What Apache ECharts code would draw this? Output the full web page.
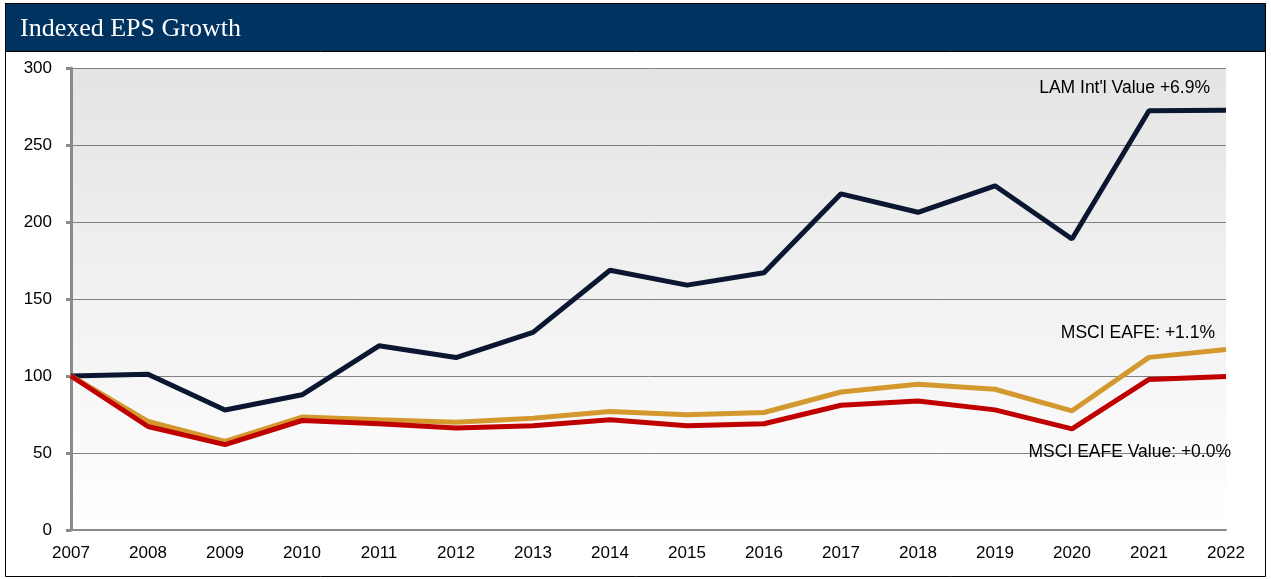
<!DOCTYPE html>
<html>
<head>
<meta charset="utf-8">
<script src="https://cdn.jsdelivr.net/npm/echarts@6/dist/echarts.min.js"></script>
<style>
html,body{margin:0;padding:0;background:#fff;}
#c{width:1271px;height:579px;}
</style>
</head>
<body>
<div id="c"></div>
<script>
const years = ['2007','2008','2009','2010','2011','2012','2013','2014','2015','2016','2017','2018','2019','2020','2021','2022'];
const lamIntlValue = [100,101.1,77.9,87.8,119.6,112,128.3,168.7,159,167,218.3,206.3,223.5,189,272.2,272.6];
const msciEafe = [100,70.5,57.5,73.3,71.6,70,72.6,76.9,74.8,76.3,89.6,94.6,91.4,77.4,112.1,117.2];
const msciEafeValue = [100,67.2,55.4,71.1,69,66.2,67.7,71.6,67.7,69,81,83.8,78,65.7,97.8,99.6];
const seriesNames = ["LAM Int'l Value +6.9%", 'MSCI EAFE: +1.1%', 'MSCI EAFE Value: +0.0%'];
const title = 'Indexed EPS Growth';

const chart = echarts.init(document.getElementById('c'), null, {renderer:'canvas'});
const lbl = {fontFamily:'Liberation Sans, Arial, sans-serif', fontSize:17, color:'#000'};
const annFont = '17.5px "Liberation Sans", Arial, sans-serif';
chart.setOption({
  animation:false,
  backgroundColor:'#fff',
  grid:{left:71, right:45, top:68, bottom:49, show:true, borderWidth:0,
    backgroundColor:{type:'linear',x:0,y:0,x2:0,y2:1,colorStops:[{offset:0,color:'#e4e4e4'},{offset:1,color:'#ffffff'}]}},
  xAxis:{type:'category', data:years, boundaryGap:false,
    axisLine:{lineStyle:{color:'#8a8a8a', width:2}},
    axisTick:{show:false},
    axisLabel:Object.assign({interval:0, margin:15}, lbl)},
  yAxis:{type:'value', min:0, max:300, interval:50,
    axisLine:{show:true, lineStyle:{color:'#8a8a8a', width:3}},
    axisTick:{show:true, length:5, lineStyle:{color:'#8a8a8a', width:3}},
    splitLine:{lineStyle:{color:'#808080', width:1}},
    axisLabel:Object.assign({margin:19}, lbl)},
  series:[
    {name:seriesNames[0], type:'line', data:lamIntlValue, symbol:'none', lineStyle:{color:'#0b1730', width:5}, z:2},
    {name:seriesNames[1], type:'line', data:msciEafe, symbol:'none', lineStyle:{color:'#d4992e', width:5}, z:3},
    {name:seriesNames[2], type:'line', data:msciEafeValue, symbol:'none', lineStyle:{color:'#c00000', width:5}, z:4}
  ],
  graphic:[
    {type:'rect', shape:{x:5, y:3, width:1261, height:48}, style:{fill:'#00335f'}, z:10},
    {type:'text', x:20, y:29, style:{text:title, fill:'#fff', font:'26px "Liberation Serif", serif', textVerticalAlign:'middle'}, z:11},
    {type:'rect', shape:{x:5.5, y:3.5, width:1260, height:573}, style:{fill:'none', stroke:'#000', lineWidth:1}, z:12},
    {type:'line', shape:{x1:5, y1:51.5, x2:1266, y2:51.5}, style:{stroke:'#000', lineWidth:1}, z:12},
    {type:'text', x:1210, y:88, style:{text:seriesNames[0], fill:'#000', font:annFont, textAlign:'right', textVerticalAlign:'middle'}, z:11},
    {type:'text', x:1215, y:333, style:{text:seriesNames[1], fill:'#000', font:annFont, textAlign:'right', textVerticalAlign:'middle'}, z:11},
    {type:'text', x:1231, y:452, style:{text:seriesNames[2], fill:'#000', font:annFont, textAlign:'right', textVerticalAlign:'middle'}, z:11}
  ]
});
</script>
</body>
</html>
